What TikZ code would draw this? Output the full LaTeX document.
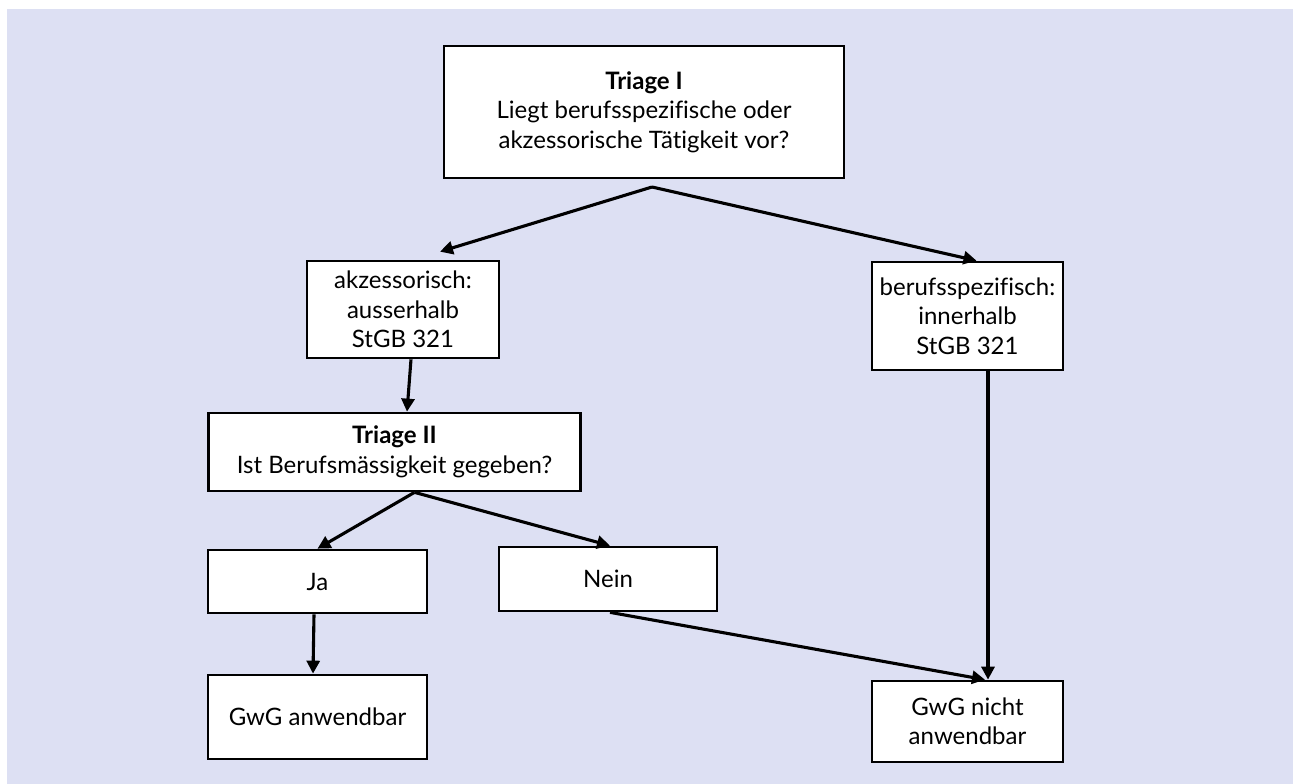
\documentclass[tikz,border=0pt]{standalone}
\usepackage{fontspec}
\setmainfont{Lato}[Ligatures=NoCommon]
\usetikzlibrary{arrows.meta,calc}
\definecolor{bgc}{RGB}{221,224,243}
\tikzset{
  box/.style={draw=black,line width=2.7pt,fill=white,align=center,inner sep=0pt,font=\fontsize{24}{29.5}\selectfont},
  conn/.style={line width=3.1pt,-{Triangle[length=13pt,width=13pt]}}
}
\begin{document}
\begin{tikzpicture}[x=1pt,y=-1pt]
\useasboundingbox (0,0) rectangle (1293,784);
\fill[bgc] (7,9) rectangle (1293,784);
\node[box,minimum width=400pt,minimum height=132pt] (top) at (644,112) {\textbf{Triage I}\\Liegt berufsspezifische oder\\akzessorische Tätigkeit vor?};
\node[box,minimum width=192pt,minimum height=97pt] (akz) at (403,309.5) {akzessorisch:\\ausserhalb\\StGB 321};
\node[box,minimum width=191pt,minimum height=108pt] (ber) at (967.5,316) {berufsspezifisch:\\innerhalb\\StGB 321};
\node[box,minimum width=372pt,minimum height=78pt] (t2) at (394.5,452) {\textbf{Triage II}\\Ist Berufsmässigkeit gegeben?};
\node[box,minimum width=219pt,minimum height=63pt] (ja) at (317.5,581.5) {Ja};
\node[box,minimum width=218pt,minimum height=64pt] (nein) at (608,579) {Nein};
\node[box,minimum width=219pt,minimum height=84pt] (gwg) at (317.5,717) {GwG anwendbar};
\node[box,minimum width=191pt,minimum height=81pt] (gwgn) at (967.5,721.5) {GwG nicht\\anwendbar};
\coordinate (split) at (652,187);
\draw[conn] (split) -- ([xshift=37pt,yshift=8pt]akz.north);
\draw[conn] (split) -- ([xshift=9pt]ber.north);
\draw[conn] ([xshift=8pt]akz.south) -- ([xshift=12.5pt]t2.north);
\draw[conn] ([xshift=20pt]t2.south) -- (ja.north);
\draw[conn] ([xshift=20pt]t2.south) -- ([xshift=2pt]nein.north);
\draw[conn] ([xshift=-3.5pt]ja.south) -- ([xshift=-4.5pt]gwg.north);
\draw[conn] ([xshift=2pt]nein.south) -- ([xshift=17.5pt]gwgn.north);
\draw[conn] ([xshift=20.5pt]ber.south) -- ([xshift=20.5pt]gwgn.north);
\end{tikzpicture}
\end{document}
